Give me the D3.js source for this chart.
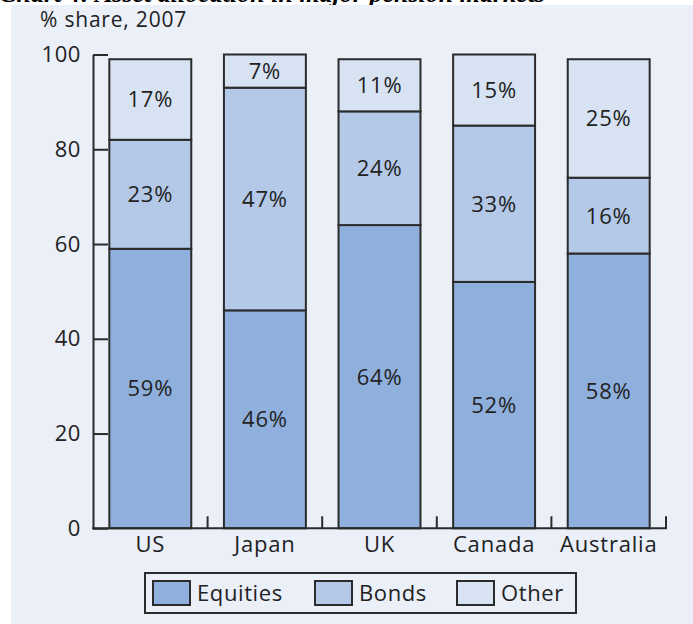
<!DOCTYPE html>
<html>
<head>
<meta charset="utf-8">
<script src="https://d3js.org/d3.v7.min.js"></script>
<style>
  body { margin: 0; background: #fff; }
  svg text { font-family: "Open Sans", sans-serif; fill: #222; }
</style>
</head>
<body>
<svg id="chart" width="693" height="624"></svg>
<script>
// chart data
var countries = ["US", "Japan", "UK", "Canada", "Australia"];
var equities = [59, 46, 64, 52, 58];
var bonds = [23, 47, 24, 33, 16];
var other = [17, 7, 11, 15, 25];
var seriesNames = ["Equities", "Bonds", "Other"];
var seriesColors = ["#8fb0dd", "#b4c9e8", "#d7e2f3"];
var yTicks = [0, 20, 40, 60, 80, 100];

var rows = countries.map(function(c, i) {
  return {country: c, Equities: equities[i], Bonds: bonds[i], Other: other[i]};
});

var svg = d3.select("#chart");

// title strip, mostly cut off at the top
svg.append("text")
  .attr("x", 545)
  .attr("y", 2)
  .attr("text-anchor", "end")
  .style("font-family", "'Liberation Serif', serif")
  .style("font-weight", "bold")
  .style("font-style", "italic")
  .style("font-size", "26px")
  .style("fill", "#000")
  .text("Chart 4: Asset allocation in major pension markets");

// panel
svg.append("rect")
  .attr("x", 11).attr("y", 5)
  .attr("width", 682).attr("height", 619)
  .attr("fill", "#eaeff8");

svg.append("text")
  .attr("x", 40).attr("y", 27)
  .style("font-size", "21px")
  .style("letter-spacing", "0.8px")
  .text("% share, 2007");

var plotLeft = 93, plotRight = 666, plotBottom = 528.3, plotTop = 54.5;

var x = d3.scaleBand()
  .domain(countries)
  .range([plotLeft, plotRight])
  .paddingInner(0.285)
  .paddingOuter(0.1425);

var y = d3.scaleLinear()
  .domain([0, 100])
  .range([plotBottom, plotTop]);

var stack = d3.stack().keys(seriesNames);
var layers = stack(rows);

var g = svg.append("g");

layers.forEach(function(layer, li) {
  var grp = g.append("g").attr("class", "series " + layer.key);
  grp.selectAll("rect")
    .data(layer)
    .join("rect")
    .attr("x", function(d) { return x(d.data.country); })
    .attr("y", function(d) { return y(d[1]); })
    .attr("width", x.bandwidth())
    .attr("height", function(d) { return y(d[0]) - y(d[1]); })
    .attr("fill", seriesColors[li])
    .attr("stroke", "#2b2b2b")
    .attr("stroke-width", 2);

  grp.selectAll("text")
    .data(layer)
    .join("text")
    .attr("x", function(d) { return x(d.data.country) + x.bandwidth() / 2; })
    .attr("y", function(d) { return (y(d[0]) + y(d[1])) / 2; })
    .attr("dy", "0.36em")
    .attr("text-anchor", "middle")
    .style("font-size", "22px")
    .style("letter-spacing", "0.8px")
    .text(function(d) { return (d[1] - d[0]) + "%"; });
});

// y axis, ticks pointing inward
var yAxis = svg.append("g")
  .attr("transform", "translate(" + plotLeft + ",0)")
  .call(d3.axisLeft(y).tickValues(yTicks).tickSizeInner(-15).tickSizeOuter(0).tickPadding(12));
yAxis.selectAll("path, line").attr("stroke", "#2b2b2b").attr("stroke-width", 2);
yAxis.selectAll("text")
  .style("font-family", "'Open Sans', sans-serif")
  .style("font-size", "22px")
  .style("letter-spacing", "0.6px")
  .attr("fill", "#222");

// x axis: labels from axisBottom, baseline and boundary ticks drawn by hand
var xAxis = svg.append("g")
  .attr("transform", "translate(0," + plotBottom + ")")
  .call(d3.axisBottom(x).tickSize(0).tickPadding(8));
xAxis.select(".domain").remove();
xAxis.selectAll("text")
  .style("font-family", "'Open Sans', sans-serif")
  .style("font-size", "22px")
  .style("letter-spacing", "0.8px")
  .attr("fill", "#222");

svg.append("line")
  .attr("x1", plotLeft - 1).attr("x2", plotRight + 1)
  .attr("y1", plotBottom).attr("y2", plotBottom)
  .attr("stroke", "#2b2b2b").attr("stroke-width", 2);

svg.selectAll("line.bound")
  .data(countries)
  .join("line")
  .attr("class", "bound")
  .attr("x1", function(c) { return x(c) + x.bandwidth() + (x.step() - x.bandwidth()) / 2; })
  .attr("x2", function(c) { return x(c) + x.bandwidth() + (x.step() - x.bandwidth()) / 2; })
  .attr("y1", plotBottom)
  .attr("y2", plotBottom - 12)
  .attr("stroke", "#2b2b2b").attr("stroke-width", 2);

// legend
var legend = svg.append("g");
legend.append("rect")
  .attr("x", 145).attr("y", 573)
  .attr("width", 431).attr("height", 40)
  .attr("fill", "none")
  .attr("stroke", "#2b2b2b").attr("stroke-width", 2);

var legendX = [153, 315, 457];
seriesNames.forEach(function(name, i) {
  legend.append("rect")
    .attr("x", legendX[i]).attr("y", 581)
    .attr("width", 37).attr("height", 24)
    .attr("fill", seriesColors[i])
    .attr("stroke", "#2b2b2b").attr("stroke-width", 2);
  legend.append("text")
    .attr("x", legendX[i] + 44).attr("y", 601)
    .style("font-size", "22px")
    .style("letter-spacing", "0.6px")
    .text(name);
});
</script>
</body>
</html>
